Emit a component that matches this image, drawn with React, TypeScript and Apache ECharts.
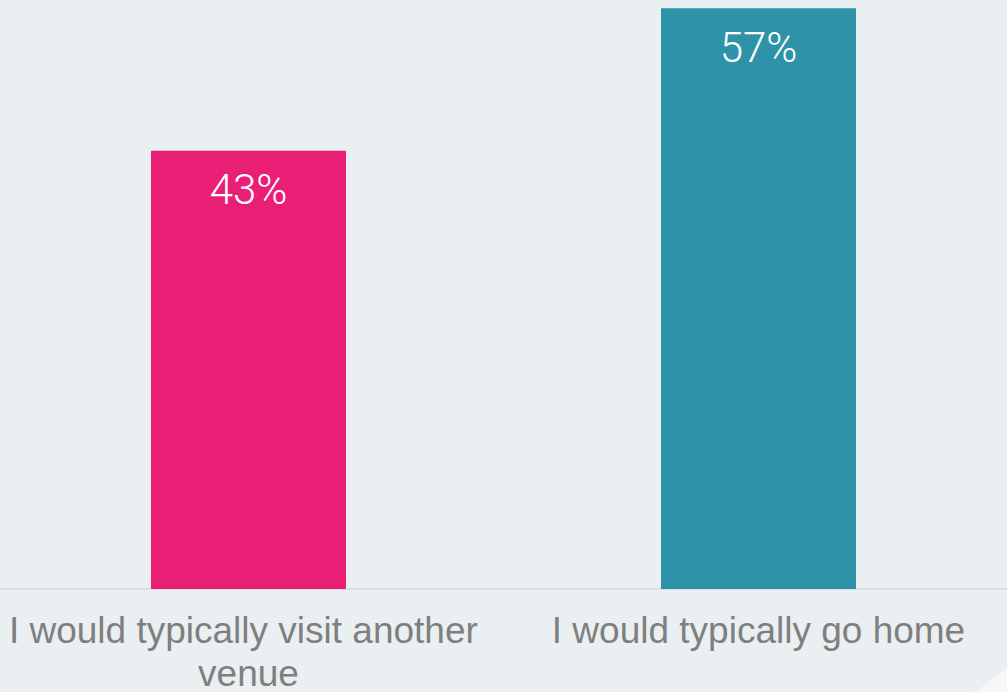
import React, { useEffect, useRef } from "react";
import * as echarts from "echarts";

const categories = ["I would typically visit another venue", "I would typically go home"];
const values = [43, 57];
const barColors = ["#E91E75", "#2E93A8"];

export default function App() {
  const ref = useRef<HTMLDivElement>(null);
  useEffect(() => {
    document.body.style.margin = "0";
    const chart = echarts.init(ref.current!, null, { renderer: "svg" });
    chart.setOption({
      animation: false,
      backgroundColor: "#EAEFF2",
      grid: {
        left: -6.5,
        width: 1020,
        top: 0,
        bottom: 103,
        containLabel: false,
        outerBoundsMode: "none",
      },
      xAxis: {
        type: "category",
        data: categories,
        axisLine: { show: true, lineStyle: { color: "#DCDEDF", width: 2 } },
        axisTick: { show: false },
        axisLabel: {
          color: "#7F7F7F",
          fontFamily: "Liberation Sans, Arial, sans-serif",
          fontSize: 37,
          lineHeight: 43,
          margin: 20,
          width: 490,
          overflow: "break",
          interval: 0,
        },
      },
      yAxis: {
        type: "value",
        min: 0,
        max: 57.8,
        show: false,
        splitLine: { show: false },
      },
      series: [
        {
          type: "bar",
          barWidth: 195,
          data: values.map((v, i) => ({ value: v, itemStyle: { color: barColors[i] } })),
          label: {
            show: true,
            position: "insideTop",
            distance: 18,
            formatter: "{c}%",
            color: "#FFFFFF",
            fontFamily: "Roboto, sans-serif",
            fontWeight: 300,
            fontSize: 42,
          },
        },
      ],
      graphic: [
        {
          type: "polygon",
          shape: { points: [[1007, 668], [975, 692], [1007, 692]] },
          style: { fill: "#F5F7F9" },
          silent: true,
        },
      ],
    });
    return () => chart.dispose();
  }, []);
  return <div ref={ref} style={{ width: 1007, height: 692, position: "absolute", left: 0, top: 0 }} />;
}
